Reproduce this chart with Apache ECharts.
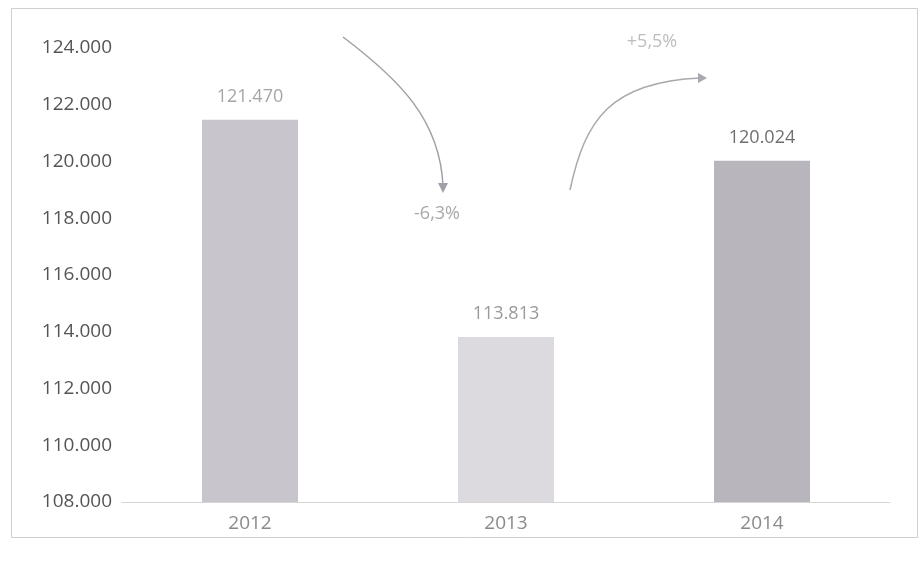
<!DOCTYPE html>
<html><head><meta charset="utf-8">
<script src="https://cdn.jsdelivr.net/npm/echarts@6/dist/echarts.min.js"></script>
<style>html,body{margin:0;padding:0;background:#fff}#c{width:920px;height:565px}</style>
</head><body><div id="c"></div>
<script>
const categories = ['2012', '2013', '2014'];
const values = [121.470, 113.813, 120.024];
const valueLabels = ['121.470', '113.813', '120.024'];
const barColors = ['#c9c5cc', '#dcd9df', '#b9b5bd'];
const labelColors = ['#a6a6a6', '#9a9a9a', '#707070'];
const changeLabels = ['-6,3%', '+5,5%'];

const chart = echarts.init(document.getElementById('c'));
const font = 'Open Sans';
chart.setOption({
  animation: false,
  backgroundColor: '#fff',
  grid: { left: 122, right: 30, top: 48, bottom: 63 },
  xAxis: {
    type: 'category', data: categories,
    axisLine: { lineStyle: { color: '#d6d6d6' } },
    axisTick: { show: false },
    axisLabel: { color: '#8a8a8a', fontSize: 19, fontFamily: font, margin: 12 }
  },
  yAxis: {
    type: 'value', min: 108, max: 124, interval: 2,
    splitLine: { show: false },
    axisLine: { show: false }, axisTick: { show: false },
    axisLabel: { color: '#555', fontSize: 19, fontFamily: font, margin: 10,
      formatter: v => v.toFixed(3) }
  },
  series: [{
    type: 'bar', barWidth: 96,
    data: values.map((v, i) => ({ value: v, itemStyle: { color: barColors[i] },
      label: { color: labelColors[i] } })),
    label: { show: true, position: 'top', distance: 14, fontSize: 18, fontFamily: font,
      formatter: p => valueLabels[p.dataIndex] }
  }],
  graphic: [
    { type: 'rect', shape: { x: 11.5, y: 8.5, width: 906, height: 529 },
      style: { fill: 'none', stroke: '#cfcfcf', lineWidth: 1 } },
    { type: 'bezierCurve', shape: { x1: 343, y1: 37, cpx1: 400, cpy1: 80, cpx2: 440, cpy2: 120, x2: 443, y2: 186 },
      style: { stroke: '#a0a0a8', lineWidth: 1.5, fill: 'none' } },
    { type: 'polygon', shape: { points: [[438, 183], [448, 183], [443, 193]] },
      style: { fill: '#a0a0a8' } },
    { type: 'bezierCurve', shape: { x1: 570, y1: 190, cpx1: 585, cpy1: 120, cpx2: 610, cpy2: 82, x2: 700, y2: 78 },
      style: { stroke: '#a8a8ae', lineWidth: 1.5, fill: 'none' } },
    { type: 'polygon', shape: { points: [[698, 73], [707, 78], [698, 83]] },
      style: { fill: '#a8a8ae' } },
    { type: 'text', x: 437, y: 214, style: { text: changeLabels[0], fill: '#a8a8a8', fontSize: 18, fontFamily: font, align: 'center', verticalAlign: 'middle' } },
    { type: 'text', x: 652, y: 42, style: { text: changeLabels[1], fill: '#bdbdbd', fontSize: 18, fontFamily: font, align: 'center', verticalAlign: 'middle' } }
  ]
});
</script></body></html>
